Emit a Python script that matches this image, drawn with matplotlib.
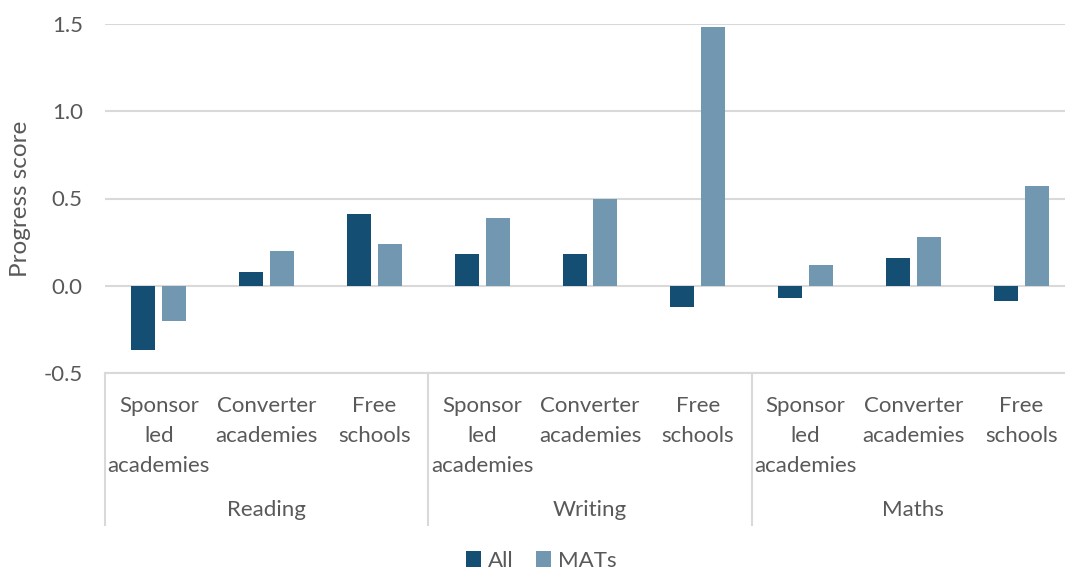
import matplotlib
matplotlib.use("Agg")
from matplotlib import pyplot as plt
import numpy as np

plt.rcParams['font.family'] = ['Lato', 'DejaVu Sans']

subjects = ['Reading', 'Writing', 'Maths']
school_types = ['Sponsor\nled\nacademies', 'Converter\nacademies', 'Free\nschools']
all_scores = [-0.37, 0.08, 0.41, 0.18, 0.18, -0.12, -0.07, 0.16, -0.09]
mat_scores = [-0.20, 0.20, 0.24, 0.39, 0.50, 1.48, 0.12, 0.28, 0.57]
yticks = [-0.5, 0.0, 0.5, 1.0, 1.5]

c_all = '#154e73'
c_mat = '#7197b1'
grey = '#595959'
gridc = '#d9d9d9'
fs = 16

fig = plt.figure(figsize=(10.65, 5.7), dpi=100)
ax = fig.add_axes([105/1065, 1-373/570, 970/1065, 349/570])

x = np.arange(len(all_scores))
w = 0.223
off = 0.1435
ax.bar(x - off, all_scores, w, color=c_all, label='All', zorder=3)
ax.bar(x + off, mat_scores, w, color=c_mat, label='MATs', zorder=3)

ax.set_xlim(-0.5, 8.5)
ax.set_ylim(-0.5, 1.5)
ax.set_yticks(yticks)
ax.set_yticklabels([f'{v:.1f}' for v in yticks], fontsize=fs, color=grey)
ax.tick_params(axis='y', length=0, pad=16)
ax.set_xticks([])
ax.grid(axis='y', color=gridc, linewidth=1.5, zorder=0)
for s in ax.spines.values():
    s.set_visible(False)
ax.set_ylabel('Progress score', fontsize=17.5, color=grey, labelpad=9)

trans = ax.get_xaxis_transform()
# category labels
for i in range(len(all_scores)):
    ax.text(i, -0.066, school_types[i % 3], transform=trans, ha='center', va='top',
            fontsize=fs, color=grey, linespacing=1.62, clip_on=False)
for g, name in enumerate(subjects):
    ax.text(3*g + 1, -0.393, name, transform=trans, ha='center', va='center',
            fontsize=fs, color=grey, clip_on=False)
# divider lines
ax.plot([-0.5, 8.5], [0, 0], transform=trans, color=gridc, lw=1.5, clip_on=False)
for xd in [-0.5, 2.5, 5.5, 8.5]:
    ax.plot([xd, xd], [0, -0.436], transform=trans, color=gridc, lw=1.5, clip_on=False)

fig.legend(loc='center', bbox_to_anchor=(541/1065, 1-561/570), ncol=2, frameon=False,
           fontsize=fs, labelcolor=grey, handlelength=0.7, handleheight=0.7,
           handletextpad=0.3, columnspacing=1.0)

fig.savefig('out.png', dpi=100)
